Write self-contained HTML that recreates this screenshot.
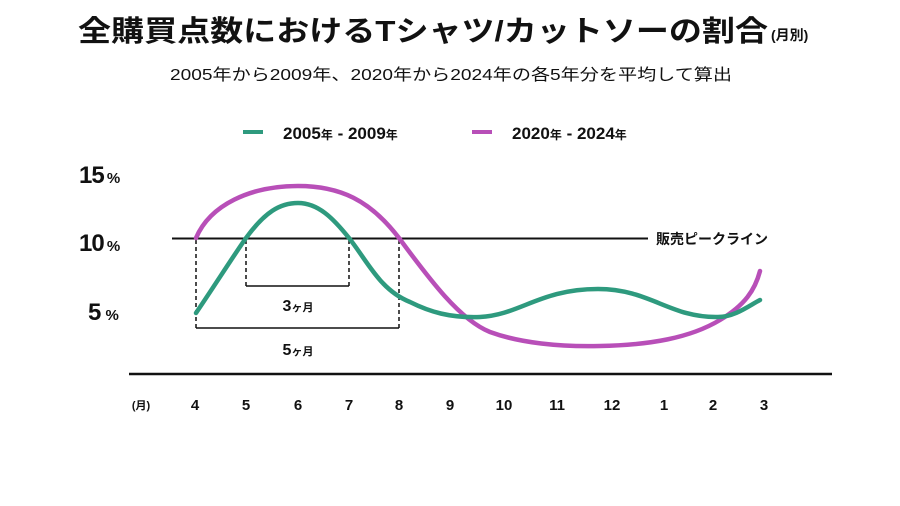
<!DOCTYPE html>
<html><head><meta charset="utf-8"><style>
html,body{margin:0;padding:0;background:#fff;}
svg{display:block;}
text{font-family:"Liberation Sans","Noto Sans CJK JP",sans-serif;fill:#111;}
</style></head><body>
<svg width="900" height="506" viewBox="0 0 900 506" xmlns="http://www.w3.org/2000/svg">
<text x="78" y="41" font-size="29" font-weight="bold" textLength="690" lengthAdjust="spacingAndGlyphs">全購買点数におけるTシャツ/カットソーの割合</text>
<text x="771" y="40" font-size="14" font-weight="bold">(月別)</text>
<text x="170" y="80" font-size="16" textLength="562" lengthAdjust="spacingAndGlyphs">2005年から2009年、2020年から2024年の各5年分を平均して算出</text>
<line x1="243" y1="132" x2="263" y2="132" stroke="#2e9a7e" stroke-width="4"/>
<text x="283" y="139" font-size="17" font-weight="bold">2005<tspan font-size="12">年</tspan> - 2009<tspan font-size="12">年</tspan></text>
<line x1="472" y1="132" x2="492" y2="132" stroke="#b84fb8" stroke-width="4"/>
<text x="512" y="139" font-size="17" font-weight="bold">2020<tspan font-size="12">年</tspan> - 2024<tspan font-size="12">年</tspan></text>
<text x="79" y="183" font-size="24" font-weight="bold" letter-spacing="-1">15<tspan font-size="15"> %</tspan></text>
<text x="79" y="251" font-size="24" font-weight="bold" letter-spacing="-1">10<tspan font-size="15"> %</tspan></text>
<text x="88" y="320" font-size="24" font-weight="bold">5<tspan font-size="15"> %</tspan></text>
<line x1="172" y1="238.5" x2="648" y2="238.5" stroke="#111" stroke-width="2"/>
<text x="656" y="244" font-size="14" font-weight="bold">販売ピークライン</text>
<g stroke="#111" stroke-width="1.5" fill="none">
<line x1="196" y1="240" x2="196" y2="328" stroke-dasharray="4,3"/>
<line x1="399" y1="240" x2="399" y2="328" stroke-dasharray="4,3"/>
<line x1="196" y1="328" x2="399" y2="328"/>
<line x1="246" y1="240" x2="246" y2="286" stroke-dasharray="4,3"/>
<line x1="349" y1="240" x2="349" y2="286" stroke-dasharray="4,3"/>
<line x1="246" y1="286" x2="349" y2="286"/>
</g>
<text x="298" y="311" font-size="16" font-weight="bold" text-anchor="middle">3<tspan font-size="11">ヶ月</tspan></text>
<text x="298" y="355" font-size="16" font-weight="bold" text-anchor="middle">5<tspan font-size="11">ヶ月</tspan></text>
<path d="M196,238 C210,205 250,186 298,186 C340,186 370,200 399,238 C430,280 460,320 490,332 C520,343 560,347 600,346 C650,345 690,338 720,320 C745,305 755,290 760,271" stroke="#b84fb8" stroke-width="4.5" fill="none" stroke-linecap="round"/>
<path d="M196,313 C215,285 232,258 246,238 C265,212 280,203 298,203 C318,203 333,218 349,238 C368,262 380,290 410,302 C430,312 450,318 480,317 C520,315 540,289 598,289 C650,289 670,318 718,317 C735,317 750,305 760,300" stroke="#2e9a7e" stroke-width="4.5" fill="none" stroke-linecap="round"/>
<line x1="129" y1="374" x2="832" y2="374" stroke="#111" stroke-width="2.5"/>
<g font-size="15" font-weight="bold" text-anchor="middle">
<text x="141" y="409" font-size="11">(月)</text>
<text x="195" y="410">4</text><text x="246" y="410">5</text><text x="298" y="410">6</text>
<text x="349" y="410">7</text><text x="399" y="410">8</text><text x="450" y="410">9</text>
<text x="504" y="410">10</text><text x="557" y="410">11</text><text x="612" y="410">12</text>
<text x="664" y="410">1</text><text x="713" y="410">2</text><text x="764" y="410">3</text>
</g>
</svg>
</body></html>
